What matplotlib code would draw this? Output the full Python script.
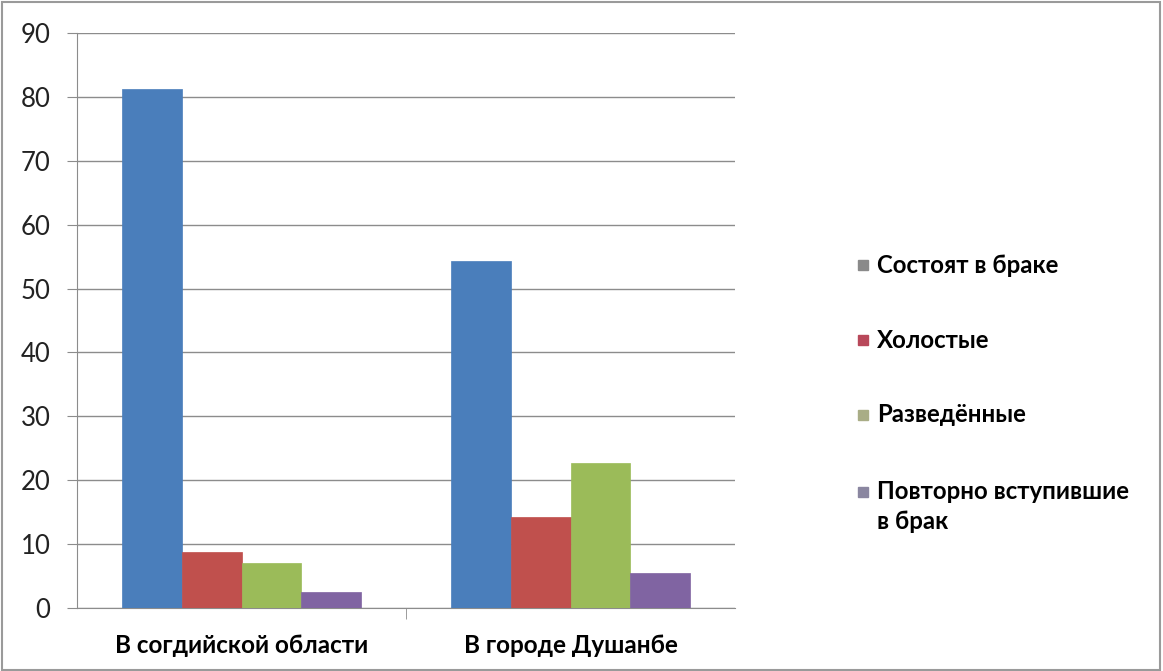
import numpy as np
import matplotlib
matplotlib.use("Agg")
import matplotlib.pyplot as plt
from matplotlib.patches import Rectangle

plt.rcParams['font.family'] = ['Lato', 'DejaVu Sans']

categories = ['В согдийской области', 'В городе Душанбе']
series_names = ['Состоят в браке', 'Холостые', 'Разведённые', 'Повторно вступившие\nв брак']
married = [81.2, 54.3]
single = [8.8, 14.3]
divorced = [7.0, 22.7]
remarried = [2.5, 5.5]

bar_colors = ['#4a7ebb', '#c0504d', '#9bbb59', '#8064a2']
legend_colors = ['#8a8a8a', '#b8485a', '#a9ad86', '#8a86a0']

values = [married, single, divorced, remarried]

W, H = 1163, 671
fig = plt.figure(figsize=(W / 100, H / 100), dpi=100)
ax = fig.add_axes([77 / W, 1 - 608 / H, 658 / W, 575 / H])

x = np.arange(len(categories))
width = 1 / 5.5
for i, (vals, col) in enumerate(zip(values, bar_colors)):
    ax.bar(x + (i - 1.5) * width, vals, width=width, color=col,
           edgecolor=col, linewidth=0.5, zorder=3)

ax.set_xlim(-0.5, 1.5)
ax.set_ylim(0, 90)
ax.set_yticks(range(0, 91, 10))
ax.yaxis.grid(True, color='#8c8c8c', linewidth=1.0, zorder=0)
ax.set_xticks(x)
ax.set_xticklabels(categories, fontsize=17.5, fontweight='bold')
ax.tick_params(axis='x', length=0, pad=19)
ax.tick_params(axis='y', length=7, color='#8c8c8c', labelsize=18.5, pad=12,
               labelcolor='#222222')
ax.set_xticks([0.5], minor=True)
ax.tick_params(axis='x', which='minor', length=8, color='#8c8c8c')

for s in ['top', 'right']:
    ax.spines[s].set_visible(False)
ax.spines['left'].set_color('#8c8c8c')
ax.spines['bottom'].set_color('#8c8c8c')

# legend drawn by hand so the marker sits on the first line of a wrapped label
leg_y = [265, 340, 415, 492]
for name, col, yy in zip(series_names, legend_colors, leg_y):
    fig.patches.append(Rectangle((858 / W, 1 - (yy + 5) / H), 10 / W, 10 / H,
                                 transform=fig.transFigure, color=col))
    if '\n' in name:
        fig.text(877 / W, 1 - (yy - 12) / H, name, fontsize=17.3, fontweight='bold',
                 va='top', ha='left', linespacing=1.35)
    else:
        fig.text(877 / W, 1 - yy / H, name, fontsize=17.3, fontweight='bold',
                 va='center', ha='left')

fig.patches.append(Rectangle((0.002, 0.002), 0.995, 0.995, transform=fig.transFigure,
                             fill=False, edgecolor='#9a9a9a', linewidth=1.5))

fig.savefig('out.png', dpi=100)
